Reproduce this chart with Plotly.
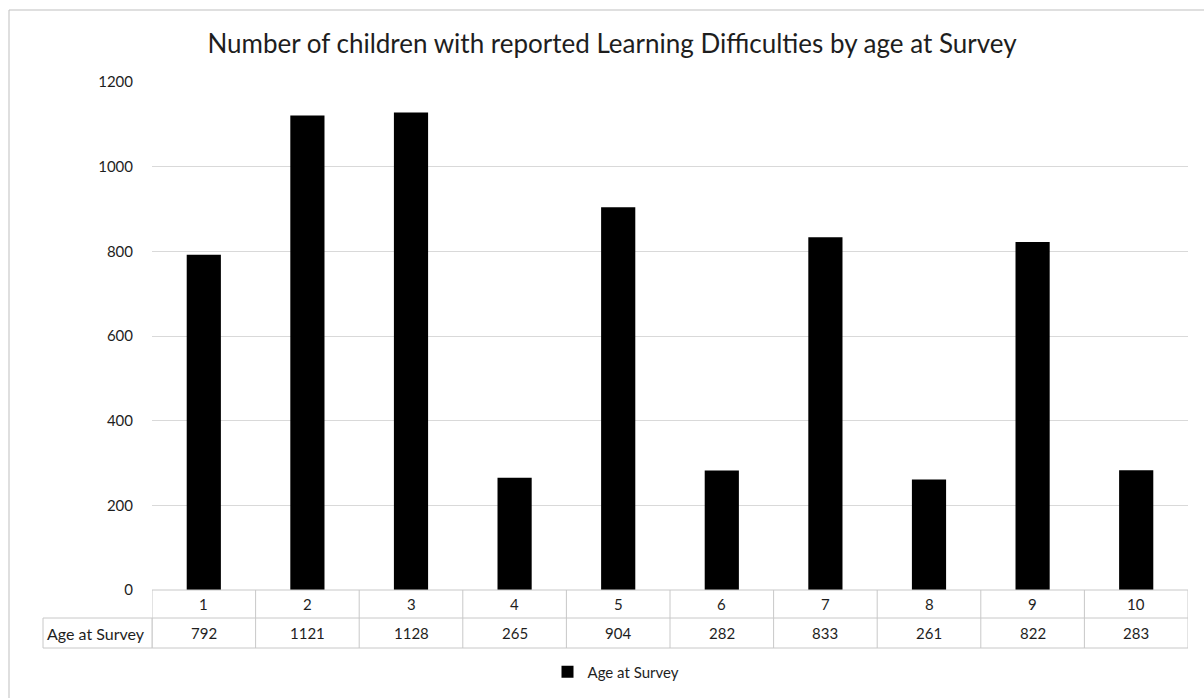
import plotly.graph_objects as go

# Survey results: children with reported learning difficulties per age group
ages = [1, 2, 3, 4, 5, 6, 7, 8, 9, 10]
counts = [792, 1121, 1128, 265, 904, 282, 833, 261, 822, 283]
series_name = "Age at Survey"
title_text = "Number of children with reported Learning Difficulties by age at Survey"
y_ticks = [0, 200, 400, 600, 800, 1000, 1200]

W, H = 1204, 698
L, R, T, B = 152, 16, 82, 108
plot_w = W - L - R
plot_h = H - T - B


def py(pixel_y):
    """Pixel row -> paper y."""
    return (H - B - pixel_y) / plot_h


def px(pixel_x):
    """Pixel column -> paper x."""
    return (pixel_x - L) / plot_w


FONT = "Lato"
TXT = "#1e1e1e"
GRID = "#d9d9d9"
TABLE_LINE = "#c8c8c8"

fig = go.Figure()
fig.add_trace(go.Bar(
    x=ages, y=counts, name=series_name,
    marker=dict(color="black", line=dict(width=0)),
    showlegend=True,
))

# data table rows under the plot
row1_top, row1_bot, row2_bot = py(590), py(618), py(648)
shapes = []
# horizontal lines across the columns
for yy in (row1_top, row1_bot, row2_bot):
    shapes.append(dict(type="line", xref="x", yref="paper",
                       x0=0.5, x1=10.5, y0=yy, y1=yy,
                       line=dict(color=TABLE_LINE, width=1)))
# column separators
for a in ages + [ages[-1] + 1]:
    shapes.append(dict(type="line", xref="x", yref="paper",
                       x0=a - 0.5, x1=a - 0.5, y0=row1_top, y1=row2_bot,
                       line=dict(color=TABLE_LINE, width=1)))
# series label cell
shapes.append(dict(type="rect", xref="paper", yref="paper",
                   x0=px(43), x1=0, y0=row2_bot, y1=row1_bot,
                   line=dict(color=TABLE_LINE, width=1)))
# chart frame
shapes.append(dict(type="line", xref="paper", yref="paper",
                   x0=px(9), x1=px(1210), y0=py(10), y1=py(10),
                   line=dict(color="#bfbfbf", width=1)))
shapes.append(dict(type="line", xref="paper", yref="paper",
                   x0=px(9), x1=px(9), y0=py(10), y1=py(700),
                   line=dict(color="#bfbfbf", width=1)))

cell_font = dict(family=FONT, size=15, color=TXT)
annotations = []
for a, c in zip(ages, counts):
    annotations.append(dict(x=a, y=(row1_top + row1_bot) / 2, xref="x", yref="paper",
                            xanchor="center", yanchor="middle",
                            text=str(a), showarrow=False, font=cell_font))
    annotations.append(dict(x=a, y=(row1_bot + row2_bot) / 2, xref="x", yref="paper",
                            xanchor="center", yanchor="middle",
                            text=str(c), showarrow=False, font=cell_font))
annotations.append(dict(x=px(45), y=(row1_bot + row2_bot) / 2, xref="paper", yref="paper",
                        xanchor="left", yanchor="middle", text=series_name, showarrow=False,
                        font=dict(family=FONT, size=16, color=TXT)))

fig.update_layout(
    width=W, height=H,
    margin=dict(l=L, r=R, t=T, b=B, autoexpand=False),
    paper_bgcolor="white", plot_bgcolor="white",
    title=dict(text=title_text, xref="container", x=612 / W, xanchor="center",
               yref="container", y=1 - 44 / H, yanchor="middle",
               font=dict(family=FONT, size=26, color=TXT)),
    bargap=0.67,
    xaxis=dict(range=[0.5, 10.5], showticklabels=False, showgrid=False,
               zeroline=False, showline=False, ticks=""),
    yaxis=dict(range=[0, 1200], tickvals=y_ticks, showgrid=True, gridcolor=GRID,
               gridwidth=1, zeroline=False, showline=False, ticks="",
               ticklabelstandoff=18,
               tickfont=dict(family=FONT, size=15, color=TXT)),
    legend=dict(orientation="h", x=px(616), xanchor="center", y=py(672), yanchor="middle",
                font=dict(family=FONT, size=15, color=TXT), itemwidth=30),
    shapes=shapes,
    annotations=annotations,
)

fig.write_html("out.html")
